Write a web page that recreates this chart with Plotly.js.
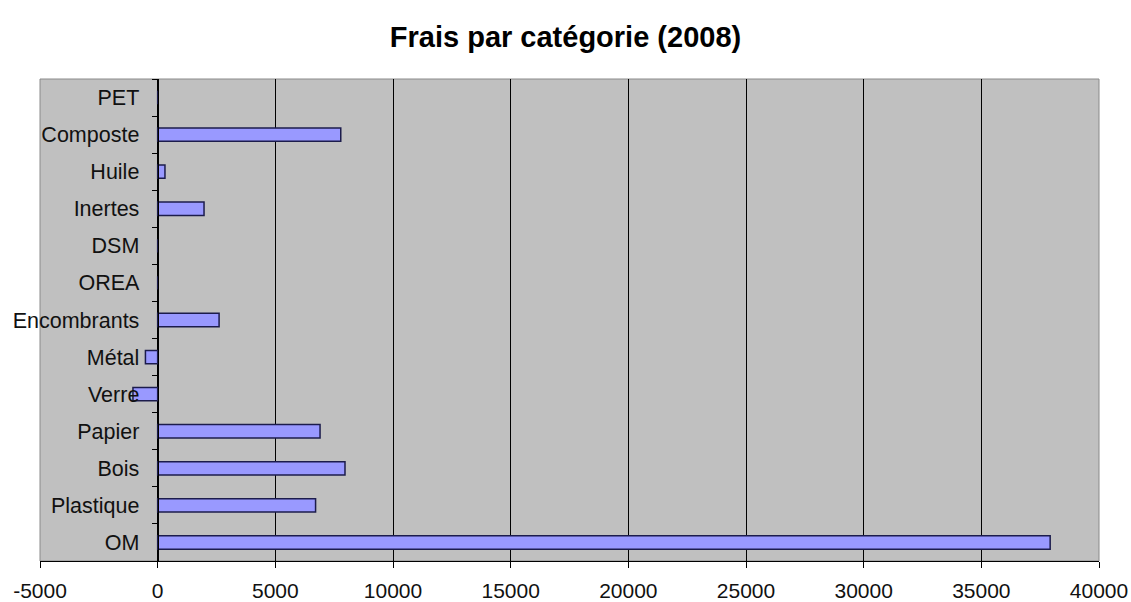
<!DOCTYPE html>
<html>
<head>
<meta charset="utf-8">
<script src="https://cdn.plot.ly/plotly-3.0.1.min.js"></script>
<style>html,body{margin:0;padding:0;background:#fff;}#chart{width:1131px;height:602px;}</style>
</head>
<body>
<div id="chart"></div>
<script>
const categories = ["OM", "Plastique", "Bois", "Papier", "Verre", "Métal", "Encombrants", "OREA", "DSM", "Inertes", "Huile", "Composte", "PET"];
const frais2008 = [37925, 6710, 7960, 6900, -1050, -520, 2610, 0, 0, 1970, 310, 7780, 0];
const xTickVals = [-5000, 0, 5000, 10000, 15000, 20000, 25000, 30000, 35000, 40000];
const xTickLabels = ["-5000", "0", "5000", "10000", "15000", "20000", "25000", "30000", "35000", "40000"];
const xRange = [-5000, 40000];

const trace = {
  type: "bar",
  orientation: "h",
  y: categories,
  x: frais2008,
  marker: { color: "#9999ff", line: { color: "#1c1c4c", width: 1.5 } },
  hoverinfo: "x+y"
};

const layout = {
  width: 1131,
  height: 602,
  margin: { l: 40, r: 32, t: 79, b: 41 },
  paper_bgcolor: "#ffffff",
  plot_bgcolor: "#c0c0c0",
  font: { family: "Liberation Sans, Arial, sans-serif", size: 21, color: "#111" },
  title: {
    text: "<b>Frais par catégorie (2008)</b>",
    font: { family: "Liberation Sans, Arial, sans-serif", size: 29, color: "#000" },
    x: 0.5, xanchor: "center", y: 0.938, yanchor: "middle"
  },
  bargap: 0.64,
  showlegend: false,
  xaxis: {
    range: xRange,
    tickmode: "array",
    tickvals: xTickVals,
    ticktext: xTickLabels,
    showgrid: true,
    gridcolor: "#000000",
    gridwidth: 1,
    zeroline: false,
    showline: true,
    linecolor: "#000000",
    linewidth: 1,
    ticks: "outside",
    ticklen: 6,
    tickcolor: "#000000",
    ticklabelstandoff: 5,
    tickfont: { size: 21 },
    fixedrange: true
  },
  yaxis: {
    type: "category",
    categoryorder: "array",
    categoryarray: categories,
    anchor: "free",
    position: (0 - xRange[0]) / (xRange[1] - xRange[0]),
    showline: true,
    linecolor: "#000000",
    linewidth: 1,
    ticks: "outside",
    tickson: "boundaries",
    ticklen: 6,
    tickcolor: "#000000",
    ticklabelstandoff: 14,
    showgrid: false,
    zeroline: false,
    tickfont: { size: 21.5 },
    fixedrange: true
  },
  shapes: [{
    type: "rect", xref: "paper", yref: "paper", x0: 0, x1: 1, y0: 0, y1: 1,
    line: { color: "#8a8a8a", width: 1 }, layer: "below"
  }]
};

Plotly.newPlot("chart", [trace], layout, { displayModeBar: false, staticPlot: true });
</script>
</body>
</html>
